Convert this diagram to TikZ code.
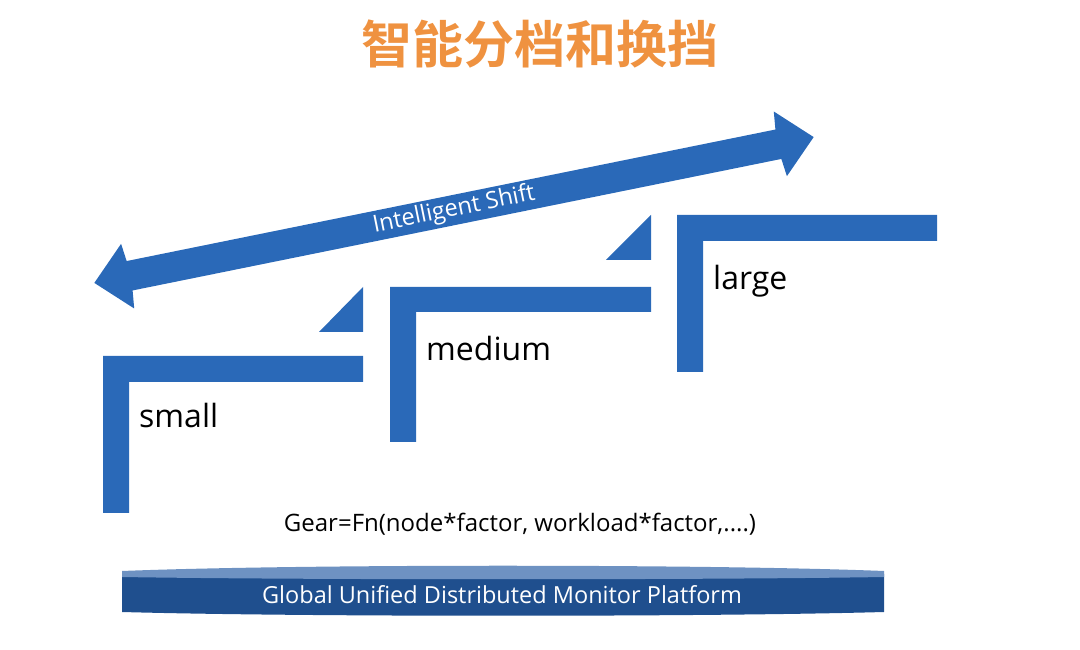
\documentclass[tikz,border=0pt]{standalone}
\usepackage{fontspec}
\setmainfont{Open Sans}
\newfontfamily\cjkbold{Noto Sans CJK SC Bold}
\definecolor{gearblue}{HTML}{2A69B8}
\definecolor{titleorange}{HTML}{EF9240}
\definecolor{platdark}{HTML}{1F4F8E}
\definecolor{plattop}{HTML}{6E92C2}
\begin{document}
\begin{tikzpicture}[x=1pt,y=1pt,
  bar/.style={fill=gearblue,draw=none},
  gearlabel/.style={anchor=base west,font=\fontsize{32}{36}\selectfont,inner sep=0pt}]
\useasboundingbox (0,0) rectangle (1080,650);
% title
\node (title) at (540,606) {\cjkbold\color{titleorange}\fontsize{51}{58}\selectfont 智能分档和换挡};
% double arrow
\begin{scope}[shift={(454,440)},rotate=11.46]
\fill[gearblue] (-367,0) -- (-333,33) -- (-331,15) -- (331,15) -- (333,33) -- (367,0)
  -- (333,-33) -- (331,-15) -- (-331,-15) -- (-333,-33) -- cycle;
\node[text=white,font=\fontsize{23.5}{25}\selectfont,transform shape,inner sep=0pt] (shift) at (0,0) {Intelligent Shift};
\end{scope}
% small L
\fill[bar] (103,137) -- (103,294) -- (363,294) -- (363,268) -- (129,268) -- (129,137) -- cycle;
\fill[bar] (363,363) -- (363,318) -- (319,318) -- cycle;
% medium L
\fill[bar] (390,208) -- (390,363) -- (651,363) -- (651,338) -- (416,338) -- (416,208) -- cycle;
\fill[bar] (651,435) -- (651,390) -- (606,390) -- cycle;
% large L
\fill[bar] (677,278) -- (677,435) -- (937,435) -- (937,409) -- (703,409) -- (703,278) -- cycle;
% labels
\node[gearlabel] (small) at (139,222) {small};
\node[gearlabel] (medium) at (426,289) {medium};
\node[gearlabel] (large) at (713,360) {large};
% formula
\node[font=\fontsize{24}{28}\selectfont] (formula) at (520,126) {Gear=Fn(node*factor, workload*factor,....)};
% platform
\fill[platdark] (122,76) -- (122,38) .. controls (300,33) and (706,33) .. (884,38) -- (884,76) -- cycle;
\fill[plattop] (122,73) -- (122,79) .. controls (300,86) and (706,86) .. (884,79) -- (884,73) .. controls (706,70) and (300,70) .. (122,73) -- cycle;
\node[text=white,font=\fontsize{23.5}{26}\selectfont] (platform) at (502,55) {Global Unified Distributed Monitor Platform};
\end{tikzpicture}
\end{document}
